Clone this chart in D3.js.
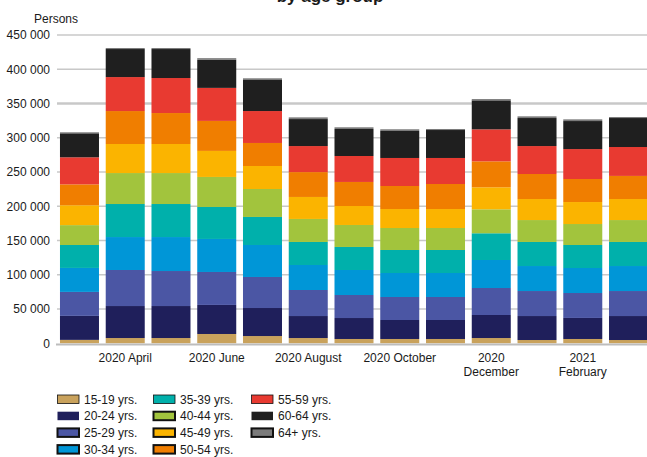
<!DOCTYPE html>
<html>
<head>
<meta charset="utf-8">
<script src="https://cdn.jsdelivr.net/npm/d3@7"></script>
<style>
  html, body { margin: 0; padding: 0; background: #fff; }
  svg { display: block; font-family: "Liberation Sans", Arial, sans-serif; }
</style>
</head>
<body>
<svg id="chart" width="647" height="457"></svg>
<script>
// ---- data ----
const months = ["2020-03","2020-04","2020-05","2020-06","2020-07","2020-08","2020-09","2020-10","2020-11","2020-12","2021-01","2021-02","2021-03"];
const ageGroups = ["15-19 yrs.","20-24 yrs.","25-29 yrs.","30-34 yrs.","35-39 yrs.","40-44 yrs.","45-49 yrs.","50-54 yrs.","55-59 yrs.","60-64 yrs.","64+ yrs."];
const age15_19 = [5000, 7700, 7700, 13600, 10600, 7700, 6300, 6300, 6300, 7700, 4800, 6300, 4800];
const age20_24 = [35000, 46700, 46700, 42400, 40900, 32100, 30600, 27700, 27700, 33600, 35000, 30700, 35000];
const age25_29 = [35000, 52600, 51100, 48100, 45300, 38000, 33600, 33600, 33600, 39400, 36500, 36400, 36500];
const age30_34 = [35000, 48100, 49600, 48200, 46700, 36500, 36500, 35000, 35000, 40900, 36500, 36500, 36500];
const age35_39 = [33500, 48200, 48200, 46700, 40900, 33600, 33600, 33600, 33600, 39000, 35100, 33600, 35100];
const age40_44 = [29000, 45200, 45200, 43800, 40800, 33600, 32100, 32100, 32100, 35000, 32000, 30600, 32000];
const age45_49 = [29000, 42400, 42400, 38000, 33600, 32100, 27700, 27700, 27700, 32100, 30700, 32100, 30700];
const age50_54 = [30500, 48100, 45200, 43800, 33600, 36300, 35100, 33600, 36500, 37900, 36500, 33600, 33700];
const age55_59 = [39500, 49600, 51100, 48200, 46600, 38000, 37900, 40900, 38000, 46700, 40800, 43700, 42200];
const age60_64 = [35000, 40900, 42300, 40900, 45300, 39400, 39400, 39400, 40800, 42300, 40900, 40900, 42300];
const age64plus = [1500, 1500, 1500, 2500, 2500, 2500, 2500, 2500, 1500, 1900, 2500, 2500, 1500];
const yTicks = [0, 50000, 100000, 150000, 200000, 250000, 300000, 350000, 400000, 450000];
const xLabelMonths = ["2020-04","2020-06","2020-08","2020-10","2020-12","2021-02"];
const xLabelLines = [["2020 April"],["2020 June"],["2020 August"],["2020 October"],["2020","December"],["2021","February"]];
const titleText = "by age group";
const yUnitText = "Persons";

// ---- styles ----
const colors = ["#c9a25c","#1f1f5b","#4b56a4","#0096d7","#00b0ab","#a2c43d","#fbb400","#f07e00","#e83a31","#1f1f1f","#7b7b7b"];
const legendStroke = [0.8, 0, 2, 2, 0.8, 2, 2, 2, 0.8, 0, 2];

const seriesValues = [age15_19, age20_24, age25_29, age30_34, age35_39, age40_44, age45_49, age50_54, age55_59, age60_64, age64plus];
const table = months.map((m, i) => {
  const row = { month: m };
  ageGroups.forEach((g, k) => row[g] = seriesValues[k][i]);
  return row;
});

const svg = d3.select("#chart");

const x = d3.scaleBand().domain(months).range([56.6, 651.4]).paddingInner(0.1475).paddingOuter(0.07375);
const y = d3.scaleLinear().domain([0, 450000]).range([343.3, 35]);

// gridlines
svg.append("g").selectAll("line").data(yTicks.filter(d => d > 0)).join("line")
  .attr("x1", 57).attr("x2", 647)
  .attr("y1", d => y(d)).attr("y2", d => y(d))
  .attr("stroke", "#c8c8c8")
  .attr("stroke-width", d => d === 350000 ? 2.6 : 1.4);

// y tick labels
const fmt = v => d3.format(",")(v).replace(/,/g, " ");
svg.append("g").selectAll("text").data(yTicks).join("text")
  .attr("x", 50).attr("y", d => y(d) + 4.3)
  .attr("text-anchor", "end")
  .attr("font-size", 12).attr("fill", "#1a1a1a")
  .text(fmt);

svg.append("text").attr("x", 56).attr("y", 22.5).attr("text-anchor", "middle")
  .attr("font-size", 12).attr("fill", "#1a1a1a").text(yUnitText);

// stacked bars
const stack = d3.stack().keys(ageGroups)(table);
svg.append("g").selectAll("g").data(stack).join("g")
  .attr("fill", (d, i) => colors[i])
  .selectAll("rect").data(d => d).join("rect")
  .attr("x", d => x(d.data.month))
  .attr("width", x.bandwidth())
  .attr("y", d => y(d[1]))
  .attr("height", d => y(d[0]) - y(d[1]));

// x axis line
svg.append("line").attr("x1", 56).attr("x2", 647).attr("y1", 344.5).attr("y2", 344.5)
  .attr("stroke", "#bdbdbd").attr("stroke-width", 2.2);

// x labels
const xl = svg.append("g").selectAll("text").data(xLabelMonths).join("text")
  .attr("text-anchor", "middle").attr("font-size", 12).attr("fill", "#1a1a1a");
xl.each(function(m, i) {
  const t = d3.select(this);
  const cx = x(m) + x.bandwidth() / 2;
  xLabelLines[i].forEach((line, j) => {
    t.append("tspan").attr("x", cx).attr("y", 361.7 + j * 14.5).text(line);
  });
});

// title
svg.append("text").attr("x", 330).attr("y", 1.5).attr("text-anchor", "middle")
  .attr("font-size", 17).attr("font-weight", "bold").attr("fill", "#1a1a1a").text(titleText);

// legend
const legCols = [57.5, 153.5, 251.5];
const legG = svg.append("g").selectAll("g").data(ageGroups).join("g")
  .attr("transform", (d, i) => `translate(${legCols[Math.floor(i / 4)]},${395 + (i % 4) * 16.7})`);
legG.append("rect").attr("width", 21.5).attr("height", 8.5)
  .attr("fill", (d, i) => colors[i])
  .attr("stroke", (d, i) => legendStroke[i] > 0 ? "#111" : "none")
  .attr("stroke-width", (d, i) => legendStroke[i]);
legG.append("text").attr("x", 26.5).attr("y", 8.5)
  .attr("font-size", 12).attr("fill", "#1a1a1a").text(d => d);
</script>
</body>
</html>
